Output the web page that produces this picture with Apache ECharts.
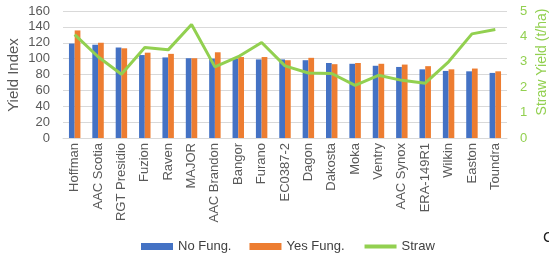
<!DOCTYPE html>
<html>
<head>
<meta charset="utf-8">
<script src="https://cdn.jsdelivr.net/npm/echarts@6/dist/echarts.min.js"></script>
<style>
  html, body { margin: 0; padding: 0; background: #fff; }
  #chart { width: 549px; height: 266px; }
</style>
</head>
<body>
<div id="chart"></div>
<script>
// varieties, left to right
const varieties = ['Hoffman', 'AAC Scotia', 'RGT Presidio', 'Fuzion', 'Raven', 'MAJOR', 'AAC Brandon', 'Bangor', 'Furano', 'EC0387-2', 'Dagon', 'Dakosta', 'Moka', 'Ventry', 'AAC Synox', 'ERA-149R1', 'Wilkin', 'Easton', 'Toundra'];
// yield index
const noFung = [119, 117.5, 114, 104.5, 101.5, 100.5, 100, 100, 99, 99, 98, 94.5, 93.5, 91, 89.5, 86.5, 84.5, 84, 82];
const yesFung = [135.5, 120, 113, 107.5, 106, 100.5, 108, 102, 102, 98, 101, 93, 94.5, 93.5, 92.5, 90.5, 86.5, 87.5, 84];
// straw yield t/ha
const straw = [4.07, 3.2, 2.51, 3.56, 3.47, 4.47, 2.8, 3.2, 3.76, 2.84, 2.56, 2.54, 2.07, 2.47, 2.27, 2.16, 3.0, 4.1, 4.27];
const leftTicks = { min: 0, max: 160, step: 20 };
const rightTicks = { min: 0, max: 5, step: 1 };

const font = 'Liberation Sans, Arial, sans-serif';
const gray = '#595959';
const green = '#92D050';

const myChart = echarts.init(document.getElementById('chart'));
const option = {
  animation: false,
  textStyle: { fontFamily: font },
  grid: { left: 63, right: 42, top: 11, bottom: 128 },
  legend: {
    bottom: 8,
    left: 136,
    itemWidth: 32,
    itemHeight: 7,
    itemGap: 18,
    textStyle: { color: '#404040', fontSize: 13, fontFamily: font },
    data: [
      { name: 'No Fung.', icon: 'rect' },
      { name: 'Yes Fung.', icon: 'rect' },
      { name: 'Straw', itemStyle: { opacity: 0 }, lineStyle: { width: 4 } }
    ]
  },
  xAxis: {
    type: 'category',
    data: varieties,
    axisTick: { show: false },
    axisLine: { lineStyle: { color: '#D9D9D9' } },
    axisLabel: { rotate: 90, color: gray, fontSize: 13, margin: 5, interval: 0 }
  },
  yAxis: [
    {
      type: 'value',
      min: leftTicks.min, max: leftTicks.max, interval: leftTicks.step,
      axisLabel: { color: gray, fontSize: 13, margin: 13 },
      splitLine: { lineStyle: { color: '#D9D9D9' } },
      axisLine: { show: false },
      axisTick: { show: false }
    },
    {
      type: 'value',
      min: rightTicks.min, max: rightTicks.max, interval: rightTicks.step,
      axisLabel: { color: green, fontSize: 13, margin: 13 },
      splitLine: { show: false },
      axisLine: { show: false },
      axisTick: { show: false }
    }
  ],
  graphic: [
    {
      type: 'text', x: 14, y: 75, rotation: Math.PI / 2,
      style: { text: 'Yield Index', fill: gray, font: '15px ' + font, align: 'center', verticalAlign: 'middle' }
    },
    {
      type: 'text', x: 542, y: 62, rotation: Math.PI / 2,
      style: { text: 'Straw Yield (t/ha)', fill: green, font: '14px ' + font, align: 'center', verticalAlign: 'middle' }
    },
    {
      type: 'text', x: 543, y: 238,
      style: { text: 'C', fill: '#222', font: '15px ' + font, align: 'left', verticalAlign: 'middle' }
    }
  ],
  series: [
    {
      name: 'No Fung.', type: 'bar', data: noFung,
      itemStyle: { color: '#4472C4' },
      barGap: '0%', barCategoryGap: '51%'
    },
    {
      name: 'Yes Fung.', type: 'bar', data: yesFung,
      itemStyle: { color: '#ED7D31' },
      barGap: '0%', barCategoryGap: '51%'
    },
    {
      name: 'Straw', type: 'line', yAxisIndex: 1, data: straw,
      symbol: 'none',
      lineStyle: { color: green, width: 3 },
      itemStyle: { color: green }
    }
  ]
};
myChart.setOption(option);
</script>
</body>
</html>
